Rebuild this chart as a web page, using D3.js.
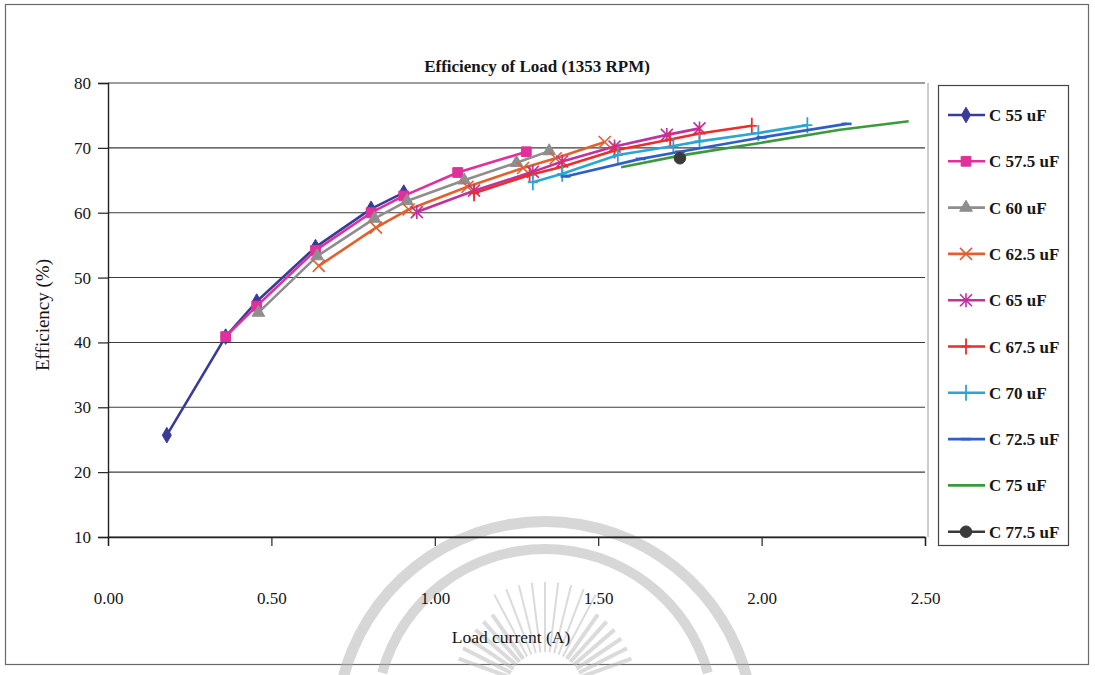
<!DOCTYPE html>
<html>
<head>
<meta charset="utf-8">
<script src="https://cdn.jsdelivr.net/npm/d3@7"></script>
<style>
  body { margin: 0; background: #fff; }
  svg { display: block; }
  text { font-family: "Liberation Serif", "Times New Roman", serif; fill: #161616; }
</style>
</head>
<body>
<svg id="chart" width="1095" height="675"></svg>
<script>
// ---- data: load current (A) and efficiency (%) for each capacitor value ----
const seriesNames = ["C 55 uF", "C 57.5 uF", "C 60 uF", "C 62.5 uF", "C 65 uF",
                     "C 67.5 uF", "C 70 uF", "C 72.5 uF", "C 75 uF", "C 77.5 uF"];

const current55  = [0.18, 0.36, 0.455, 0.635, 0.805, 0.905];
const eff55      = [25.7, 40.9, 46.3, 54.7, 60.6, 63.1];

const current575 = [0.36, 0.455, 0.635, 0.805, 0.905, 1.07, 1.28];
const eff575     = [40.9, 45.6, 54.2, 60.0, 62.6, 66.2, 69.4];

const current60  = [0.46, 0.64, 0.815, 0.915, 1.09, 1.25, 1.35];
const eff60      = [44.6, 53.3, 59.1, 61.8, 65.0, 67.7, 69.5];

const current625 = [0.645, 0.82, 0.92, 1.10, 1.27, 1.37, 1.52];
const eff625     = [51.8, 57.7, 60.5, 64.0, 66.9, 68.4, 70.9];

const current65  = [0.945, 1.12, 1.30, 1.39, 1.55, 1.71, 1.81];
const eff65      = [60.1, 63.4, 66.3, 67.9, 70.2, 72.0, 73.0];

const current675 = [1.12, 1.29, 1.39, 1.55, 1.72, 1.81, 1.97];
const eff675     = [63.0, 65.8, 67.1, 69.6, 71.3, 72.2, 73.4];

const current70  = [1.30, 1.39, 1.56, 1.73, 1.81, 1.99, 2.14];
const eff70      = [64.7, 66.0, 68.9, 70.3, 71.0, 72.3, 73.5];

const current725 = [1.40, 1.63, 1.75, 2.00, 2.26];
const eff725     = [65.6, 68.3, 69.4, 71.6, 73.7];

const current75  = [1.57, 1.75, 2.00, 2.24, 2.45];
const eff75      = [67.0, 68.8, 70.8, 72.8, 74.1];

const current775 = [1.75];
const eff775     = [68.4];

const xTicks = [0, 0.5, 1.0, 1.5, 2.0, 2.5];
const yTicks = [10, 20, 30, 40, 50, 60, 70, 80];

const currents = [current55, current575, current60, current625, current65,
                  current675, current70, current725, current75, current775];
const effs     = [eff55, eff575, eff60, eff625, eff65,
                  eff675, eff70, eff725, eff75, eff775];

// ---- styles per series ----
const colors  = ["#3a3a98", "#e0309c", "#8e8e8e", "#e2602e", "#c2309e",
                 "#ea2e2a", "#2aa6d6", "#2f5fc6", "#3b9a3e", "#3a3a3a"];
const markers = ["diamond", "square", "triangle", "cross", "star",
                 "plus", "plus", "dash", "none", "circle"];

const svg = d3.select("#chart");

const plot = { left: 108, right: 925, top: 83, bottom: 537 };

const x = d3.scaleLinear().domain([0, 2.5]).range([plot.left, plot.right]);
const y = d3.scaleLinear().domain([10, 80]).range([plot.bottom, plot.top]);

// outer chart frame
svg.append("rect")
  .attr("x", 5.5).attr("y", 4.5).attr("width", 1083).attr("height", 660)
  .attr("fill", "none").attr("stroke", "#6a6a6a").attr("stroke-width", 1.2);

// faint seal watermark behind the lower part of the chart
const seal = svg.append("g").attr("opacity", 0.5);
const arcGen = d3.arc();
seal.append("path")
  .attr("transform", "translate(545,730)")
  .attr("d", arcGen({ innerRadius: 203, outerRadius: 214, startAngle: -1.35, endAngle: 1.35 }))
  .attr("fill", "#b0b0b0");
seal.append("path")
  .attr("transform", "translate(545,718)")
  .attr("d", arcGen({ innerRadius: 164, outerRadius: 174, startAngle: -1.3, endAngle: 1.3 }))
  .attr("fill", "#b0b0b0");
const rayAngles = d3.range(-70, 71, 7);
seal.selectAll("line.ray").data(rayAngles).join("line")
  .attr("class", "ray")
  .attr("x1", a => 545 + 38 * Math.sin(a * Math.PI / 180))
  .attr("y1", a => 690 - 38 * Math.cos(a * Math.PI / 180))
  .attr("x2", a => 545 + (Math.abs(a) < 30 ? 108 : 92) * Math.sin(a * Math.PI / 180))
  .attr("y2", a => 690 - (Math.abs(a) < 30 ? 108 : 92) * Math.cos(a * Math.PI / 180))
  .attr("stroke", "#b8b8b8").attr("stroke-width", a => Math.abs(a) < 30 ? 2 : 4);

// horizontal gridlines
svg.append("g").selectAll("line").data(yTicks).join("line")
  .attr("x1", plot.left).attr("x2", plot.right)
  .attr("y1", d => y(d)).attr("y2", d => y(d))
  .attr("stroke", "#3c3c3c").attr("stroke-width", 1.1);

// plot area right edge
svg.append("line")
  .attr("x1", plot.right + 3).attr("x2", plot.right + 3)
  .attr("y1", plot.top).attr("y2", plot.bottom)
  .attr("stroke", "#9a9a9a").attr("stroke-width", 1);

// axes
const yAxis = svg.append("g")
  .attr("transform", `translate(${plot.left},0)`)
  .call(d3.axisLeft(y).tickValues(yTicks).tickSize(10).tickPadding(7).tickFormat(d3.format("d")));
const xAxis = svg.append("g")
  .attr("transform", `translate(0,${plot.bottom})`)
  .call(d3.axisBottom(x).tickValues(xTicks).tickSize(9).tickPadding(46).tickFormat(d3.format(".2f")));

[xAxis, yAxis].forEach(ax => {
  ax.select(".domain").attr("stroke", "#222").attr("stroke-width", 1.4);
  ax.selectAll(".tick line").attr("stroke", "#222").attr("stroke-width", 1.2);
  ax.selectAll(".tick text")
    .attr("font-family", "'Liberation Serif', 'Times New Roman', serif")
    .attr("font-size", 17).attr("fill", "#161616");
});

// titles
svg.append("text")
  .attr("x", 537).attr("y", 72)
  .attr("text-anchor", "middle")
  .attr("font-size", 17).attr("font-weight", "bold")
  .text("Efficiency of Load (1353 RPM)");

svg.append("text")
  .attr("transform", "translate(49,315) rotate(-90)")
  .attr("text-anchor", "middle")
  .attr("font-size", 19)
  .text("Efficiency (%)");

svg.append("text")
  .attr("x", 511).attr("y", 643)
  .attr("text-anchor", "middle")
  .attr("font-size", 17.5)
  .text("Load current (A)");

// marker drawing
function drawMarker(g, type, color) {
  switch (type) {
    case "diamond":
      g.append("path").attr("d", d3.symbol(d3.symbolDiamond, 70)()).attr("fill", color).attr("stroke", color);
      break;
    case "square":
      g.append("path").attr("d", d3.symbol(d3.symbolSquare, 95)()).attr("fill", color).attr("stroke", color);
      break;
    case "triangle":
      g.append("path").attr("d", d3.symbol(d3.symbolTriangle, 70)()).attr("fill", color).attr("stroke", color);
      break;
    case "circle":
      g.append("path").attr("d", d3.symbol(d3.symbolCircle, 105)()).attr("fill", color).attr("stroke", color);
      break;
    case "cross":
      g.append("path").attr("d", "M-6,-6L6,6M-6,6L6,-6").attr("stroke", color).attr("stroke-width", 1.6).attr("fill", "none");
      break;
    case "star":
      g.append("path").attr("d", "M-6,-6L6,6M-6,6L6,-6M0,-7L0,7").attr("stroke", color).attr("stroke-width", 1.6).attr("fill", "none");
      break;
    case "plus":
      g.append("path").attr("d", "M0,-8L0,8M-5,0L5,0").attr("stroke", color).attr("stroke-width", 1.8).attr("fill", "none");
      break;
    case "dash":
      g.append("path").attr("d", "M-5,0L5,0").attr("stroke", color).attr("stroke-width", 2.6).attr("fill", "none");
      break;
  }
}

// series lines and markers
const line = d3.line().x(d => x(d[0])).y(d => y(d[1]));
const seriesG = svg.append("g");
seriesNames.forEach((name, i) => {
  const pts = currents[i].map((c, j) => [c, effs[i][j]]);
  const g = seriesG.append("g");
  if (pts.length > 1) {
    g.append("path").datum(pts)
      .attr("d", line)
      .attr("fill", "none")
      .attr("stroke", colors[i])
      .attr("stroke-width", 2.6)
      .attr("stroke-linejoin", "round");
  }
  pts.forEach(p => {
    const m = g.append("g").attr("transform", `translate(${x(p[0])},${y(p[1])})`);
    drawMarker(m, markers[i], colors[i]);
  });
});

// legend
const legend = svg.append("g");
legend.append("rect")
  .attr("x", 938.5).attr("y", 85.5).attr("width", 130).attr("height", 460)
  .attr("fill", "#fff").attr("stroke", "#444").attr("stroke-width", 1.2);
seriesNames.forEach((name, i) => {
  const ly = 115 + i * 46.3;
  const item = legend.append("g");
  item.append("line")
    .attr("x1", 948).attr("x2", 985).attr("y1", ly).attr("y2", ly)
    .attr("stroke", colors[i]).attr("stroke-width", 2.6);
  const m = item.append("g").attr("transform", `translate(966,${ly})`);
  drawMarker(m, markers[i], colors[i]);
  item.append("text")
    .attr("x", 989).attr("y", ly + 6)
    .attr("font-size", 17).attr("font-weight", "bold")
    .text(name);
});
</script>
</body>
</html>
